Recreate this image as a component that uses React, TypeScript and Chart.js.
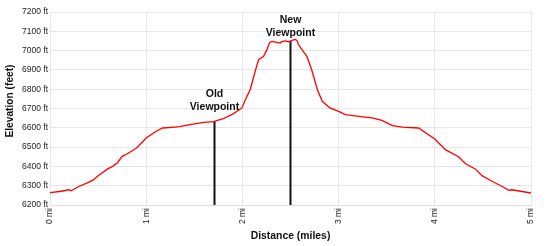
import React, { useEffect, useRef } from "react";
import { Chart, registerables } from "chart.js";

Chart.register(...registerables);

// Elevation profile (miles, feet)
const profileMiles = [0, 0.1, 0.2, 0.22, 0.3, 0.4, 0.45, 0.5, 0.6, 0.65, 0.7, 0.75, 0.8, 0.9, 1.0, 1.1, 1.17, 1.3, 1.35, 1.4, 1.5, 1.6, 1.7, 1.75, 1.8, 1.9, 1.995, 2.047, 2.081, 2.133, 2.168, 2.22, 2.255, 2.28, 2.289, 2.307, 2.359, 2.393, 2.41, 2.445, 2.48, 2.515, 2.55, 2.567, 2.584, 2.619, 2.67, 2.72, 2.78, 2.83, 2.91, 3.0, 3.07, 3.21, 3.35, 3.45, 3.56, 3.66, 3.83, 4.0, 4.11, 4.25, 4.32, 4.42, 4.49, 4.6, 4.7, 4.77, 4.8, 5.0];
const profileFeet = [6264, 6270, 6279, 6274, 6296, 6317, 6330, 6352, 6387, 6400, 6418, 6452, 6464, 6495, 6547, 6581, 6599, 6604, 6606, 6611, 6620, 6628, 6632, 6640, 6647, 6671, 6703, 6763, 6797, 6893, 6953, 6970, 7005, 7039, 7043, 7048, 7043, 7039, 7046, 7050, 7045, 7053, 7058, 7053, 7030, 7005, 6970, 6901, 6797, 6737, 6703, 6685, 6668, 6659, 6651, 6638, 6611, 6604, 6599, 6542, 6487, 6449, 6414, 6387, 6352, 6322, 6296, 6276, 6279, 6262];

// Viewpoint markers
const markerNames = [["Old", "Viewpoint"], ["New", "Viewpoint"]];
const markerMiles = [1.71, 2.5];
const markerTopFeet = [6634, 7050];
const markerLabelFeet = [6743, 7126];

const xTicks = [0, 1, 2, 3, 4, 5];
const yMin = 6200;
const yMax = 7200;
const yStep = 100;
const yTitle = "Elevation (feet)";
const xTitle = "Distance (miles)";

const FONT = "'Liberation Sans', Arial, sans-serif";

export default function App() {
  const ref = useRef<HTMLCanvasElement>(null);

  useEffect(() => {
    document.body.style.margin = "0";
    const canvas = ref.current;
    if (!canvas) return;

    const labelPlugin = {
      id: "markerLabels",
      afterDatasetsDraw(chart: any) {
        const { ctx, scales } = chart;
        ctx.save();
        ctx.font = `bold 10.5px ${FONT}`;
        ctx.fillStyle = "#111";
        ctx.textAlign = "center";
        ctx.textBaseline = "middle";
        markerNames.forEach((lines, i) => {
          const x = scales.x.getPixelForValue(markerMiles[i]);
          const yc = scales.y.getPixelForValue(markerLabelFeet[i]);
          const lh = 13;
          const start = yc - ((lines.length - 1) * lh) / 2;
          lines.forEach((t, j) => ctx.fillText(t, x, start + j * lh));
        });
        // y axis title
        ctx.font = `bold 10.2px ${FONT}`;
        ctx.translate(10, 101);
        ctx.rotate(-Math.PI / 2);
        ctx.fillText(yTitle, 0, 0);
        ctx.restore();
      },
    };

    const markerDatasets = markerMiles.map((m, i) => ({
      label: markerNames[i].join(" "),
      data: [
        { x: m, y: yMin },
        { x: m, y: markerTopFeet[i] },
      ],
      borderColor: "#111",
      borderWidth: 2,
      pointRadius: 0,
      fill: false,
    }));

    const chart = new Chart(canvas, {
      type: "line",
      data: {
        datasets: [
          {
            label: "Elevation",
            data: profileMiles.map((m, i) => ({ x: m, y: profileFeet[i] })),
            borderColor: "#ff0000",
            borderWidth: 1.3,
            pointRadius: 0,
            tension: 0,
            fill: false,
          },
          ...markerDatasets,
        ],
      },
      options: {
        animation: false,
        responsive: false,
        maintainAspectRatio: false,
        layout: { padding: { top: 12, right: 19, bottom: 0, left: 0 } },
        plugins: { legend: { display: false }, tooltip: { enabled: false } },
        scales: {
          x: {
            type: "linear",
            min: 0,
            max: 5,
            afterBuildTicks: (s: any) => {
              s.ticks = xTicks.map((v) => ({ value: v }));
            },
            afterFit: (s: any) => {
              s.height = 41;
            },
            grid: { color: "#e6e6e6", lineWidth: 1, drawTicks: false },
            border: { color: "#dcdcdc" },
            ticks: {
              minRotation: 90,
              maxRotation: 90,
              padding: 3,
              color: "#222",
              font: { size: 8.5, family: FONT },
              callback: (v: any) => `${v} mi`,
            },
            title: {
              display: true,
              text: xTitle,
              color: "#111",
              font: { size: 10.4, weight: "bold", family: FONT },
              padding: { top: 0, bottom: 4 },
            },
          },
          y: {
            type: "linear",
            min: yMin,
            max: yMax,
            afterFit: (s: any) => {
              s.width = 50;
            },
            grid: { color: "#e6e6e6", lineWidth: 1, drawTicks: false },
            border: { display: false },
            ticks: {
              stepSize: yStep,
              padding: 2,
              color: "#222",
              font: { size: 8.5, family: FONT },
              callback: (v: any) => `${v} ft`,
            },
            title: { display: false },
          },
        },
      },
      plugins: [labelPlugin],
    } as any);

    return () => chart.destroy();
  }, []);

  return <canvas ref={ref} width={550} height={246} style={{ display: "block" }} />;
}
